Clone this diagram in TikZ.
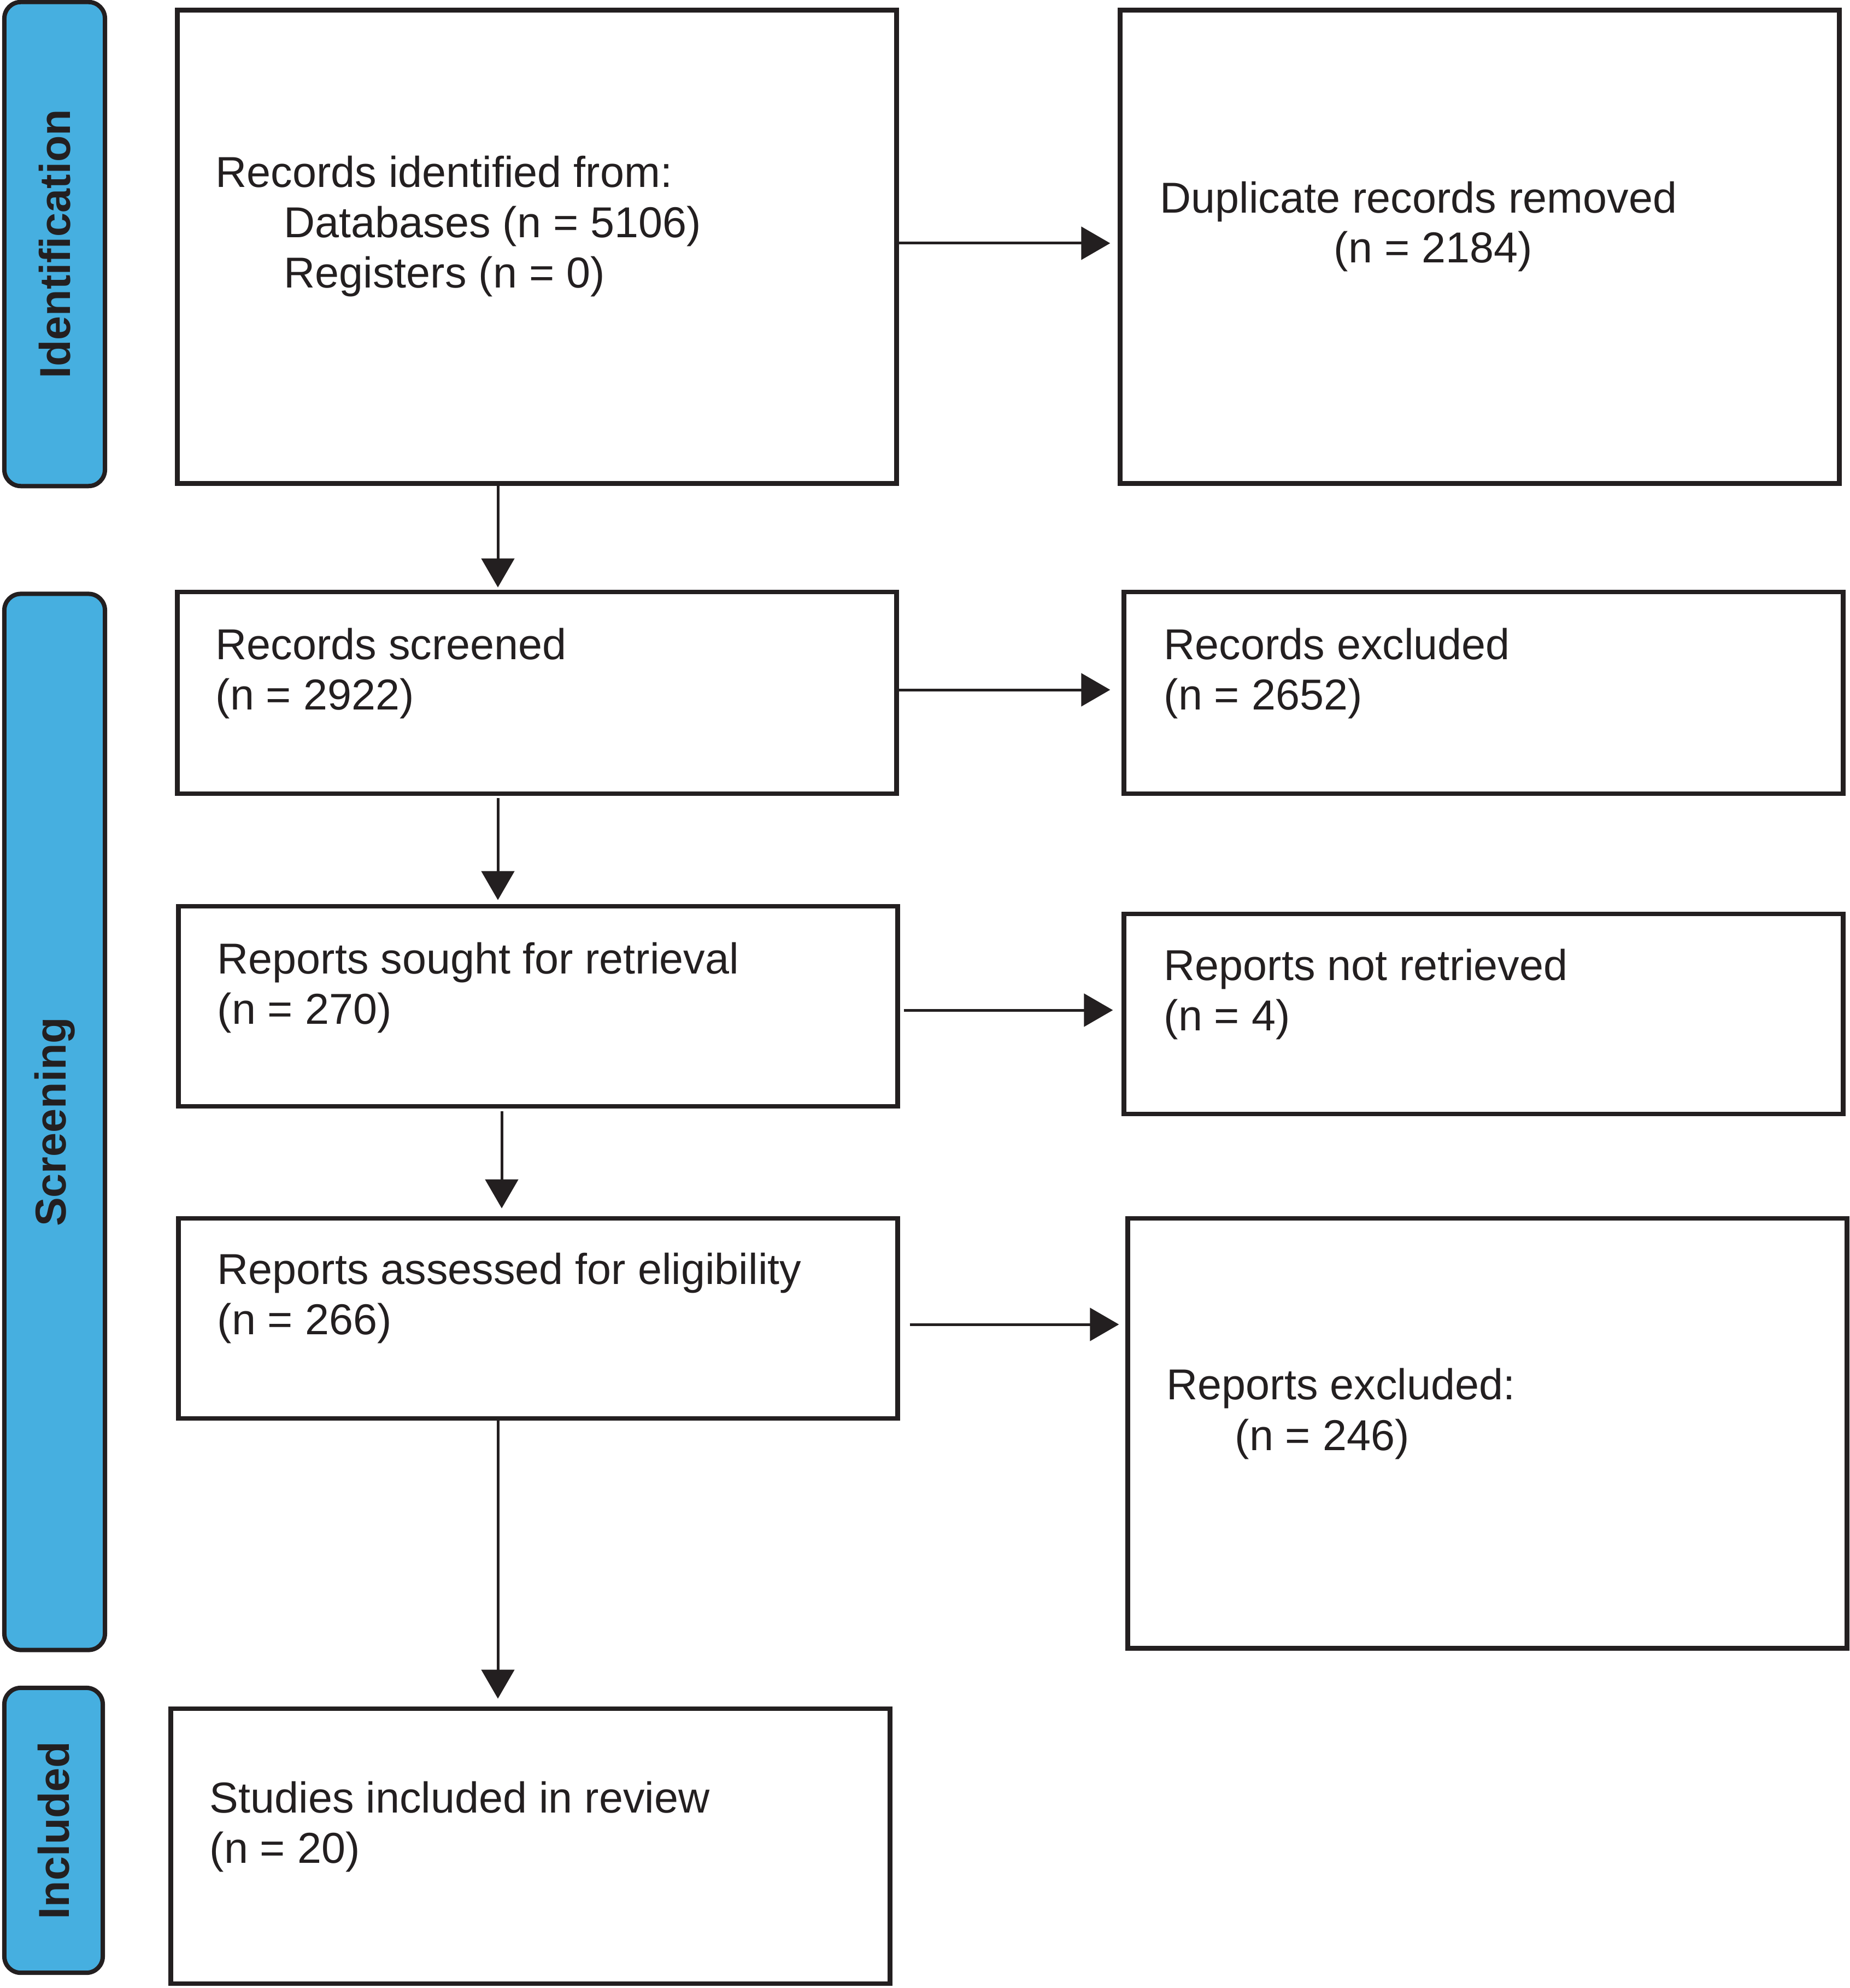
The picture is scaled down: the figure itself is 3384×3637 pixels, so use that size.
\documentclass[tikz,border=0pt]{standalone}
\usepackage{fontspec}
\setmainfont{Liberation Sans}
\usetikzlibrary{arrows.meta}
\definecolor{ink}{HTML}{231F20}
\definecolor{barblue}{HTML}{46AFE0}
\begin{document}
\begin{tikzpicture}[x=0.01cm,y=-0.01cm,
  box/.style={draw=ink, line width=0.085cm, inner sep=0pt, minimum width=13.15cm},
  bar/.style={draw=ink, fill=barblue, line width=0.08cm, rounded corners=0.3cm, inner sep=0pt},
  arr/.style={draw=ink, line width=0.05cm, -{Triangle[length=0.53cm,width=0.6cm]}},
  txt/.style={anchor=base west, inner sep=0pt, font=\fontsize{22.5}{26}\selectfont, text=ink},
  lab/.style={rotate=90, inner sep=0pt, font=\fontsize{22.5}{26}\selectfont\bfseries, text=ink}]
\useasboundingbox (0,0) rectangle (3384,3637);

% phase bars
\node[bar, minimum width=1.84cm, minimum height=8.85cm] (bid) at (100,446.5) {};
\node[bar, minimum width=1.84cm, minimum height=19.31cm] (bsc) at (100,2052.5) {};
\node[bar, minimum width=1.80cm, minimum height=5.21cm] (bin) at (98,3348.5) {};
\node[lab] (lid) at (bid.center) {Identification};
\node[lab] (lsc) at (bsc.center) {Screening};
\node[lab] (lin) at (bin.center) {Included};

% boxes
\node[box, minimum height=8.65cm] (ident) at (982.5,451.5) {};
\node[box, minimum height=8.65cm] (dup) at (2707.5,451.5) {};
\node[box, minimum height=3.69cm] (screened) at (982.5,1267.5) {};
\node[box, minimum height=3.69cm] (recexcl) at (2714.5,1267.5) {};
\node[box, minimum height=3.66cm] (sought) at (984.5,1841) {};
\node[box, minimum height=3.66cm] (notret) at (2714.5,1855) {};
\node[box, minimum height=3.66cm] (assessed) at (984.5,2412) {};
\node[box, minimum height=7.86cm] (repexcl) at (2721.5,2622) {};
\node[box, minimum height=5.03cm] (studies) at (970.5,3377.5) {};

% texts
\node[txt] (t1a) at (394,343) {Records identified from:};
\node[txt] (t1b) at (519,435) {Databases (n = 5106)};
\node[txt] (t1c) at (519,527) {Registers (n = 0)};
\node[txt] (t2a) at (2122,390) {Duplicate records removed};
\node[txt] (t2b) at (2440,481) {(n = 2184)};
\node[txt] (t3a) at (394,1206) {Records screened};
\node[txt] (t3b) at (394,1298) {(n = 2922)};
\node[txt] (t4a) at (2129,1206) {Records excluded};
\node[txt] (t4b) at (2129,1298) {(n = 2652)};
\node[txt] (t5a) at (397,1781) {Reports sought for retrieval};
\node[txt] (t5b) at (397,1873) {(n = 270)};
\node[txt] (t6a) at (2129,1793) {Reports not retrieved};
\node[txt] (t6b) at (2129,1885) {(n = 4)};
\node[txt] (t7a) at (397,2349) {Reports assessed for eligibility};
\node[txt] (t7b) at (397,2441) {(n = 266)};
\node[txt] (t8a) at (2134,2560) {Reports excluded:};
\node[txt] (t8b) at (2259,2653) {(n = 246)};
\node[txt] (t9a) at (383,3316) {Studies included in review};
\node[txt] (t9b) at (383,3408) {(n = 20)};

% helper coordinates
\coordinate (cxa) at (911,0);
\coordinate (cxb) at (918,0);
\coordinate (cy1) at (0,445);
\coordinate (cy2) at (0,1262);
\coordinate (cy3) at (0,1848);
\coordinate (cy4) at (0,2423);

% connectors
\draw[arr, shorten >=0.14cm] (ident.east |- cy1) -- (dup.west |- cy1);
\draw[arr, shorten >=0.21cm] (screened.east |- cy2) -- (recexcl.west |- cy2);
\draw[arr, shorten <=0.07cm, shorten >=0.16cm] (sought.east |- cy3) -- (notret.west |- cy3);
\draw[arr, shorten <=0.18cm, shorten >=0.12cm] (assessed.east |- cy4) -- (repexcl.west |- cy4);
\draw[arr, shorten >=0.04cm] (ident.south -| cxa) -- (screened.north -| cxa);
\draw[arr, shorten <=0.04cm, shorten >=0.07cm] (screened.south -| cxa) -- (sought.north -| cxa);
\draw[arr, shorten <=0.05cm, shorten >=0.14cm] (sought.south -| cxb) -- (assessed.north -| cxb);
\draw[arr, shorten >=0.14cm] (assessed.south -| cxa) -- (studies.north -| cxa);
\end{tikzpicture}
\end{document}
